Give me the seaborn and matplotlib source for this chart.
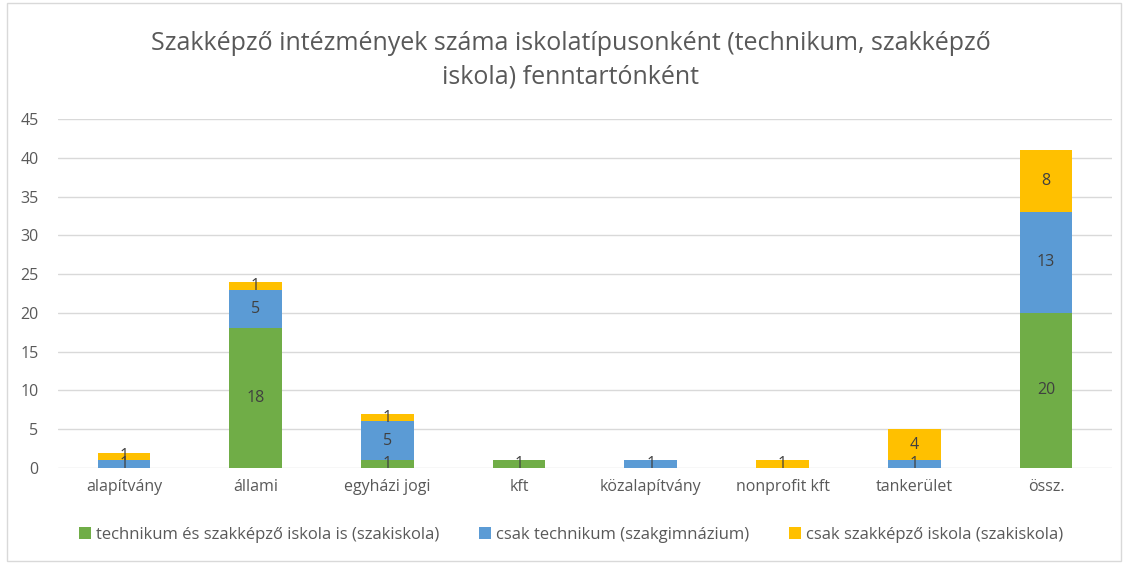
import numpy as np
import pandas as pd
import seaborn as sns
import matplotlib.pyplot as plt
from matplotlib.patches import Patch, Rectangle

categories = ["alapítvány", "állami", "egyházi jogi", "kft", "közalapítvány",
              "nonprofit kft", "tankerület", "össz."]
technikum_es_szakkepzo = [0, 18, 1, 1, 0, 0, 0, 20]
csak_technikum = [1, 5, 5, 0, 1, 0, 1, 13]
csak_szakkepzo = [1, 1, 1, 0, 0, 1, 4, 8]
series_names = ["technikum és szakképző iskola is (szakiskola)",
                "csak technikum (szakgimnázium)",
                "csak szakképző iskola (szakiskola)"]
colors = ["#70AD47", "#5B9BD5", "#FFC000"]
title = "Szakképző intézmények száma iskolatípusonként (technikum, szakképző\niskola) fenntartónként"

sns.set_style("white")
plt.rcParams['font.family'] = ['Open Sans', 'DejaVu Sans']

df = pd.DataFrame({
    "fenntarto": categories,
    "green": technikum_es_szakkepzo,
    "blue": csak_technikum,
    "yellow": csak_szakkepzo,
})
df["c1"] = df["green"]
df["c2"] = df["green"] + df["blue"]
df["c3"] = df["c2"] + df["yellow"]

fig = plt.figure(figsize=(11.26, 5.63), dpi=100)
ax = fig.add_axes([0.0515, 0.1687, 0.936, 0.62])

# layered stacking: total first, then overdraw lower segments
for col, colr in [("c3", colors[2]), ("c2", colors[1]), ("c1", colors[0])]:
    sns.barplot(data=df, x="fenntarto", y=col, color=colr, width=0.4,
                saturation=1, linewidth=0, ax=ax, zorder=3)

# segment labels
for i, row in df.iterrows():
    bottom = 0
    for key in ["green", "blue", "yellow"]:
        v = row[key]
        if v > 0:
            ax.text(i, bottom + v / 2, str(v), ha="center", va="center",
                    fontsize=11.5, color="#404040", zorder=5)
        bottom += v

ax.set_ylim(0, 45)
ax.set_yticks(range(0, 46, 5))
ax.set_xlim(-0.5, len(categories) - 0.5)
ax.yaxis.grid(True, color="#D9D9D9", linewidth=1)
ax.set_axisbelow(True)
for s in ax.spines.values():
    s.set_visible(False)
ax.set_xlabel("")
ax.set_ylabel("")
ax.tick_params(axis="both", length=0, labelsize=11.5, labelcolor="#595959")
ax.tick_params(axis="y", pad=14)
ax.tick_params(axis="x", pad=8)

fig.text(0.507, 0.893, title, ha="center", va="center", fontsize=18,
         color="#595959", linespacing=1.4)

handles = [Patch(facecolor=c, edgecolor="none") for c in colors]
fig.legend(handles, series_names, loc="center", bbox_to_anchor=(0.507, 0.05),
           ncol=3, frameon=False, fontsize=12, labelcolor="#595959",
           handlelength=0.7, handleheight=0.7, handletextpad=0.3,
           columnspacing=2.4)

fig.patches.append(Rectangle((0.006, 0.004), 0.99, 0.99, transform=fig.transFigure,
                             fill=False, edgecolor="#D9D9D9", linewidth=1))

fig.savefig("out.png", dpi=100)
